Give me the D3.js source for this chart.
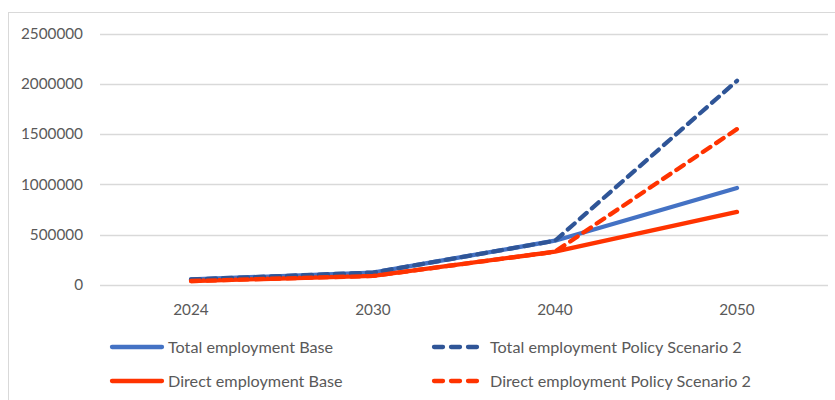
<!DOCTYPE html>
<html><head><meta charset="utf-8">
<script src="https://cdn.jsdelivr.net/npm/d3@7"></script>
<style>body{margin:0;background:#fff}svg{display:block}</style>
</head><body>
<svg id="c" width="835" height="400"></svg>
<script>
const years = ["2024","2030","2040","2050"];
const totalBase = [55000, 124000, 440000, 964000];
const directBase = [40000, 90000, 331000, 726000];
const totalPolicy = [55000, 124000, 440000, 2030000];
const directPolicy = [40000, 90000, 331000, 1550000];
const yTicks = [0, 500000, 1000000, 1500000, 2000000, 2500000];
const seriesNames = ["Total employment Base","Total employment Policy Scenario 2","Direct employment Base","Direct employment Policy Scenario 2"];

const series = [
  {name: seriesNames[0], values: totalBase, color: "#4472C4", dash: null},
  {name: seriesNames[1], values: totalPolicy, color: "#2F5597", dash: "9,7"},
  {name: seriesNames[2], values: directBase, color: "#FF3300", dash: null},
  {name: seriesNames[3], values: directPolicy, color: "#FF3300", dash: "9,7"}
];
const drawOrder = [0, 2, 1, 3];

const svg = d3.select("#c");
const font = "Lato, 'Liberation Sans', sans-serif";
svg.append("rect").attr("x", 8.5).attr("y", 12.5).attr("width", 840).attr("height", 400)
  .attr("fill", "none").attr("stroke", "#d9d9d9");

const x = d3.scaleBand().domain(years).range([100, 828]);
const y = d3.scaleLinear().domain([0, 2500000]).range([285, 33.5]);

svg.append("g").selectAll("line").data(yTicks).join("line")
  .attr("x1", 100).attr("x2", 828)
  .attr("y1", d => Math.round(y(d)) + 0.5).attr("y2", d => Math.round(y(d)) + 0.5)
  .attr("stroke", "#d9d9d9").attr("stroke-width", 1.3);

svg.append("g").selectAll("text").data(yTicks).join("text")
  .attr("x", 83).attr("y", d => y(d)).attr("dy", "0.35em")
  .attr("text-anchor", "end").attr("font-family", font).attr("font-size", 15.3)
  .attr("fill", "#595959").text(d => d);

svg.append("g").selectAll("text").data(years).join("text")
  .attr("x", d => x(d) + x.bandwidth() / 2).attr("y", 310).attr("dy", "0.35em")
  .attr("text-anchor", "middle").attr("font-family", font).attr("font-size", 15.3)
  .attr("fill", "#595959").text(d => d);

const line = d3.line().x((d, i) => x(years[i]) + x.bandwidth() / 2).y(d => y(d));
drawOrder.forEach(k => {
  const s = series[k];
  svg.append("path").datum(s.values).attr("d", line)
    .attr("fill", "none").attr("stroke", s.color).attr("stroke-width", 4.3)
    .attr("stroke-linejoin", "round").attr("stroke-linecap", "round")
    .attr("stroke-dasharray", s.dash);
});

const legPos = [[112, 347], [434, 347], [112, 381], [434, 381]];
series.forEach((s, i) => {
  const [lx, ly] = legPos[i];
  svg.append("line").attr("x1", lx).attr("x2", lx + 50).attr("y1", ly).attr("y2", ly)
    .attr("stroke", s.color).attr("stroke-width", 4.3).attr("stroke-linecap", "round")
    .attr("stroke-dasharray", s.dash ? "9,8" : null);
  svg.append("text").attr("x", lx + 56).attr("y", ly).attr("dy", "0.35em")
    .attr("font-family", font).attr("font-size", 16.2).attr("fill", "#595959").text(s.name);
});
</script>
</body></html>
